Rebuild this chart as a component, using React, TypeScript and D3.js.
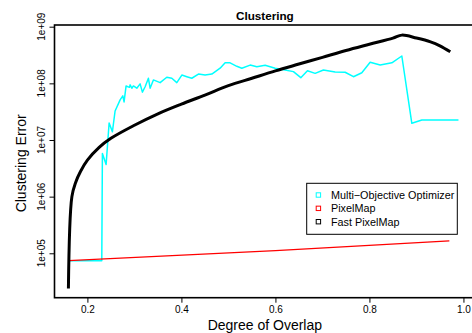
import { useEffect, useRef } from 'react';
import * as d3 from 'd3';

// Multi-Objective Optimizer (cyan)
const overlapMoo = [
  0.1596, 0.2306, 0.2319, 0.2398, 0.2462, 0.2532, 0.2589, 0.2696, 0.2753, 0.278,
  0.2823, 0.2894, 0.2909, 0.2945, 0.2979, 0.3051, 0.3121, 0.317, 0.3228, 0.3298,
  0.3334, 0.3404, 0.3547, 0.3689, 0.3796, 0.3902, 0.4009, 0.4115, 0.4221, 0.4362,
  0.4504, 0.4647, 0.4823, 0.493, 0.5036, 0.5179, 0.5285, 0.5462, 0.5604, 0.5781,
  0.5994, 0.6206, 0.6383, 0.654, 0.6681, 0.6845, 0.7021, 0.727, 0.7483, 0.766,
  0.7838, 0.8015, 0.8228, 0.8477, 0.8689, 0.8902, 0.9115, 0.9894,
];
const errorMoo = [
  7.4e4, 7.4e4, 5.8e6, 3.7e6, 2.0e7, 1.4e7, 3.25e7, 5.1e7, 6.0e7, 4.7e7,
  9.0e7, 8.5e7, 9.4e7, 8.2e7, 9.0e7, 8.2e7, 9.8e7, 7.0e7, 8.7e7, 1.23e8,
  8.2e7, 1.15e8, 1.03e8, 1.28e8, 1.23e8, 1.03e8, 1.4e8, 1.31e8, 1.23e8, 1.46e8,
  1.4e8, 1.46e8, 1.85e8, 2.3e8, 2.3e8, 2.0e8, 1.85e8, 2.1e8, 1.97e8, 2.08e8,
  1.85e8, 1.72e8, 1.61e8, 1.26e8, 1.67e8, 1.5e8, 1.72e8, 1.59e8, 1.57e8, 1.31e8,
  1.54e8, 2.35e8, 2.1e8, 2.3e8, 3.04e8, 1.97e7, 2.25e7, 2.25e7,
];

// PixelMap (red)
const overlapPixel = [0.16, 0.6, 0.97];
const errorPixel = [7.4e4, 1.11e5, 1.65e5];

// Fast PixelMap (black)
const overlapFast = [
  0.1596, 0.167, 0.175, 0.185, 0.2, 0.225, 0.25, 0.3, 0.35, 0.4, 0.45, 0.5,
  0.55, 0.6, 0.65, 0.7, 0.75, 0.8, 0.85, 0.869, 0.9, 0.93, 0.95, 0.972,
];
const errorFast = [
  2.4e4, 1.0e6, 1.78e6, 2.75e6, 4.4e6, 7.4e6, 1.07e7, 1.82e7, 2.9e7, 4.3e7, 6.2e7, 9.1e7,
  1.23e8, 1.66e8, 2.19e8, 2.88e8, 3.8e8, 4.9e8, 6.3e8, 7.1e8, 6.3e8, 5.4e8, 4.6e8, 3.6e8,
];

const xTicks = [0.2, 0.4, 0.6, 0.8, 1.0];
const yTicks = [1e5, 1e6, 1e7, 1e8, 1e9];
const legendLabels = ['Multi\u2212Objective Optimizer', 'PixelMap', 'Fast PixelMap'];
const legendColors = ['#00ffff', '#ff0000', '#000000'];

const W = 472;
const H = 333;
const FONT = 'Liberation Sans, Arial, Helvetica, sans-serif';

export default function App() {
  const svgRef = useRef<SVGSVGElement>(null);

  useEffect(() => {
    if (!svgRef.current) return;
    const svg = d3.select(svgRef.current);
    svg.selectAll('*').remove();

    const left = 54.5;
    const right = 475.2;
    const top = 25;
    const bottom = 297.7;

    const x = d3.scaleLinear().domain([0.13, 1.025]).range([left, right]);
    const y = d3.scaleLog().domain([Math.pow(10, 4.216), Math.pow(10, 9.03)]).range([bottom, top]);

    svg.append('defs').append('clipPath').attr('id', 'plot-clip')
      .append('rect')
      .attr('x', left).attr('y', top)
      .attr('width', right - left).attr('height', bottom - top);

    const plot = svg.append('g').attr('clip-path', 'url(#plot-clip)');

    const line = d3.line<[number, number]>()
      .x(d => x(d[0]))
      .y(d => y(d[1]));

    // Multi-Objective Optimizer
    plot.append('path')
      .datum(overlapMoo.map((v, i) => [v, errorMoo[i]] as [number, number]))
      .attr('fill', 'none')
      .attr('stroke', '#00ffff')
      .attr('stroke-width', 1.5)
      .attr('stroke-linejoin', 'round')
      .attr('d', line);

    // PixelMap
    plot.append('path')
      .datum(overlapPixel.map((v, i) => [v, errorPixel[i]] as [number, number]))
      .attr('fill', 'none')
      .attr('stroke', '#ff0000')
      .attr('stroke-width', 1.2)
      .attr('d', line);

    // Fast PixelMap
    plot.append('path')
      .datum(overlapFast.map((v, i) => [v, errorFast[i]] as [number, number]))
      .attr('fill', 'none')
      .attr('stroke', '#000000')
      .attr('stroke-width', 3)
      .attr('stroke-linejoin', 'round')
      .attr('d', line.curve(d3.curveCatmullRom.alpha(0.5)));

    // Box
    svg.append('rect')
      .attr('x', left).attr('y', top)
      .attr('width', right - left).attr('height', bottom - top)
      .attr('fill', 'none')
      .attr('stroke', '#000')
      .attr('stroke-width', 1.6);

    // X axis
    const xAxis = svg.append('g')
      .attr('transform', `translate(0,${bottom})`)
      .call(d3.axisBottom(x).tickValues(xTicks).tickSize(5).tickFormat(d3.format('.1f')) as never);
    xAxis.select('.domain').remove();
    xAxis.selectAll('line').attr('stroke', '#000').attr('stroke-width', 1);
    xAxis.selectAll('text')
      .style('font-family', FONT)
      .style('font-size', '10px')
      .style('fill', '#000');

    // Y axis
    const yAxis = svg.append('g')
      .attr('transform', `translate(${left},0)`)
      .call(d3.axisLeft(y).tickValues(yTicks).tickSize(5).tickFormat(() => '') as never);
    yAxis.select('.domain').remove();
    yAxis.selectAll('line').attr('stroke', '#000').attr('stroke-width', 1);

    svg.append('g').selectAll('text')
      .data(yTicks)
      .enter()
      .append('text')
      .attr('transform', d => `translate(45,${y(d)}) rotate(-90)`)
      .attr('text-anchor', 'middle')
      .style('font-family', FONT)
      .style('font-size', '10px')
      .text(d => `1e+${String(Math.round(Math.log10(d))).padStart(2, '0')}`);

    // Titles
    svg.append('text')
      .attr('x', (left + right) / 2)
      .attr('y', 20)
      .attr('text-anchor', 'middle')
      .style('font-family', FONT)
      .style('font-size', '11.7px')
      .style('font-weight', 'bold')
      .text('Clustering');

    svg.append('text')
      .attr('x', (left + right) / 2)
      .attr('y', 330)
      .attr('text-anchor', 'middle')
      .style('font-family', FONT)
      .style('font-size', '14px')
      .text('Degree of Overlap');

    svg.append('text')
      .attr('transform', `translate(26,${(top + bottom) / 2 + 2}) rotate(-90)`)
      .attr('text-anchor', 'middle')
      .style('font-family', FONT)
      .style('font-size', '14px')
      .text('Clustering Error');

    // Legend
    const legend = svg.append('g');
    legend.append('rect')
      .attr('x', 306.7).attr('y', 183.3)
      .attr('width', 150.6).attr('height', 51)
      .attr('fill', '#fff')
      .attr('stroke', '#000')
      .attr('stroke-width', 1);

    const items = legend.selectAll('g.item')
      .data(legendLabels)
      .enter()
      .append('g')
      .attr('class', 'item')
      .attr('transform', (_, i) => `translate(0,${195 + i * 13.35})`);

    items.append('rect')
      .attr('x', 316.2).attr('y', -2.2)
      .attr('width', 4.4).attr('height', 4.4)
      .attr('fill', 'none')
      .attr('stroke', (_, i) => legendColors[i])
      .attr('stroke-width', 1);

    items.append('text')
      .attr('x', 331)
      .attr('y', 3.8)
      .style('font-family', FONT)
      .style('font-size', '10.8px')
      .text(d => d);
  }, []);

  return (
    <svg
      ref={svgRef}
      width={W}
      height={H}
      style={{ position: 'absolute', left: 0, top: 0, background: '#fff' }}
    />
  );
}
